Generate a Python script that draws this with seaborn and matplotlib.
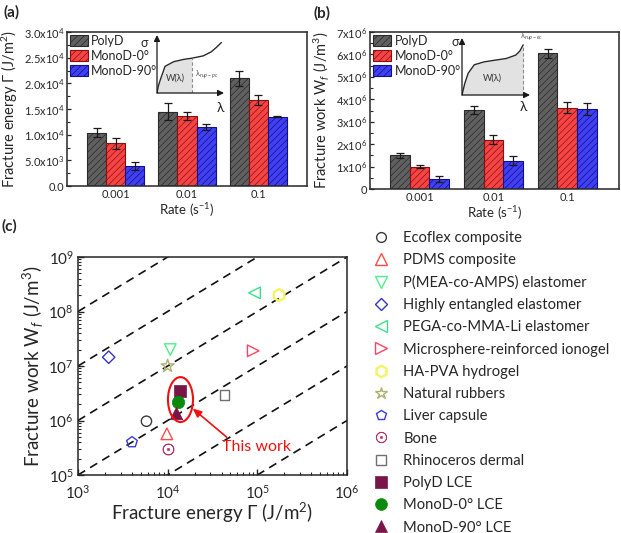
import numpy as np
import pandas as pd
import matplotlib
matplotlib.use('Agg')
import matplotlib.pyplot as plt
import seaborn as sns
from matplotlib.patches import Ellipse, Patch
from matplotlib.lines import Line2D
from matplotlib.ticker import FuncFormatter, MultipleLocator, LogLocator, NullFormatter

# ---------------- data ----------------
rates = ['0.001', '0.01', '0.1']
samples = ['PolyD', 'MonoD-0°', 'MonoD-90°']

# (a) fracture energy, J/m^2
gamma_polyd = [10400, 14500, 21000]
gamma_mono0 = [8300, 13600, 16700]
gamma_mono90 = [3950, 11500, 13500]
gamma_err = [[900, 1700, 1500], [1100, 750, 1000], [800, 550, 100]]

# (b) fracture work, J/m^3
work_polyd = [1.50e6, 3.52e6, 6.05e6]
work_mono0 = [1.00e6, 2.20e6, 3.62e6]
work_mono90 = [0.45e6, 1.26e6, 3.57e6]
work_err = [[0.10e6, 0.18e6, 0.20e6], [0.06e6, 0.20e6, 0.24e6], [0.13e6, 0.20e6, 0.26e6]]

# inset schematic curves (normalised stretch / stress)
lam_a = [0, 0.02, 0.05, 0.12, 0.25, 0.40, 0.52, 0.69, 0.81, 0.89, 0.96]
sig_a = [0, 0.12, 0.23, 0.46, 0.54, 0.58, 0.60, 0.64, 0.71, 0.79, 0.87]
lam_b = [0, 0.02, 0.04, 0.09, 0.18, 0.32, 0.48, 0.65, 0.79, 0.85, 0.90]
sig_b = [0, 0.10, 0.20, 0.38, 0.53, 0.58, 0.61, 0.64, 0.70, 0.77, 0.88]

# (c) Ashby-type comparison
materials = ['Ecoflex composite', 'PDMS composite', 'P(MEA-co-AMPS) elastomer',
             'Highly entangled elastomer', 'PEGA-co-MMA-Li elastomer',
             'Microsphere-reinforced ionogel', 'HA-PVA hydrogel', 'Natural rubbers',
             'Liver capsule', 'Bone', 'Rhinoceros dermal', 'PolyD LCE',
             'MonoD-0° LCE', 'MonoD-90° LCE']
frac_energy = [5.8e3, 9.8e3, 1.07e4, 2.2e3, 9.3e4, 9.0e4, 1.75e5, 1.0e4, 4.0e3, 1.0e4,
               4.3e4, 1.38e4, 1.3e4, 1.23e4]
frac_work = [9.7e5, 5.7e5, 2.0e7, 1.45e7, 2.2e8, 1.9e7, 2.0e8, 1.0e7, 4.0e5, 3.0e5,
             2.9e6, 3.5e6, 2.2e6, 1.4e6]
line_ratios = [1, 1e1, 1e2, 1e3, 1e4, 1e5]   # W_f / Gamma guide lines

# ---------------- style ----------------
sns.set_theme(style='ticks')
plt.rcParams['font.family'] = ['Lato', 'DejaVu Sans']
plt.rcParams['mathtext.fontset'] = 'custom'
plt.rcParams['mathtext.rm'] = 'Lato'
plt.rcParams['mathtext.it'] = 'Lato:italic'
plt.rcParams['mathtext.bf'] = 'Lato:bold'
plt.rcParams['hatch.linewidth'] = 0.5
plt.rcParams['xtick.direction'] = 'in'
plt.rcParams['ytick.direction'] = 'in'
plt.rcParams['axes.linewidth'] = 1.1

bar_colors = ['#606060', '#f54444', '#4040f2']
edge_colors = ['#2a2a2a', '#8a1010', '#10108a']

mk = ['o', '^', 'v', 'D', '<', '>', 'h', '*', 'p', '$\\odot$', 's', 's', 'o', '^']
mcol = ['#3a3a3a', '#ff4a4a', '#4df08a', '#3434c8', '#3fe08a', '#ff4466', '#f4f46a',
        '#b0b070', '#3a3ad8', '#b03a6a', '#707070', '#7a1548', '#0a8a0a', '#7a1548']
msize = [55, 70, 70, 40, 70, 70, 75, 95, 65, 65, 50, 80, 80, 80]
filled = [False] * 11 + [True] * 3

fig = plt.figure(figsize=(6.21, 5.33), dpi=100)
W, H = 621, 533


def box(l, t, r, b):
    return [l / W, 1 - b / H, (r - l) / W, (b - t) / H]


def sci_a(v, pos):
    if v < 1:
        return '0.0' if abs(v) < 1 else ''
    e = int(np.floor(np.log10(v)))
    return '$\\mathregular{%.1fx10^{%d}}$' % (v / 10 ** e, e)


def sci_b(v, pos):
    if v < 1:
        return '0' if abs(v) < 1 else ''
    return '$\\mathregular{%dx10^{6}}$' % round(v / 1e6)


def bar_panel(ax, vals, errs, fmt, major, ylim, leg_fs):
    df = pd.DataFrame({'rate': rates * 3,
                       'sample': np.repeat(samples, 3),
                       'val': vals})
    sns.barplot(data=df, x='rate', y='val', hue='sample', hue_order=samples,
                palette=bar_colors, saturation=1, errorbar=None, width=0.8,
                linewidth=0.8, legend=False, ax=ax)
    conts = list(ax.containers)
    for cont, ec, err in zip(conts, edge_colors, errs):
        for bar, e in zip(cont, err):
            bar.set_edgecolor(ec)
            bar.set_hatch('/////')
            ax.errorbar(bar.get_x() + bar.get_width() / 2, bar.get_height(), yerr=e,
                        fmt='none', ecolor='#1a1a1a', elinewidth=0.9, capsize=3,
                        capthick=0.9, zorder=4)
    ax.set_ylim(*ylim)
    ax.set_xlim(-0.68, 2.68)
    ax.yaxis.set_major_locator(MultipleLocator(major))
    ax.yaxis.set_minor_locator(MultipleLocator(major / 2))
    ax.yaxis.set_major_formatter(FuncFormatter(fmt))
    ax.tick_params(axis='both', labelsize=8, length=3, width=0.9, pad=2)
    ax.tick_params(axis='y', which='minor', length=1.8, width=0.8)
    ax.tick_params(axis='x', length=0)
    ax.set_xlabel('Rate (s$^{-1}$)', fontsize=9.5, labelpad=1)
    handles = [Patch(facecolor=c, edgecolor=e, hatch='/////', lw=0.8)
               for c, e in zip(bar_colors, edge_colors)]
    ax.legend(handles, samples, loc='upper left', frameon=False, fontsize=leg_fs,
              handlelength=1.45, handleheight=1.0, handletextpad=0.25,
              labelspacing=0.22, borderaxespad=0.15, borderpad=0.1)


def inset(rect, lam, sig, shade_to, rup_label, rup_xy, w_xy, sig_xy, lam_xy):
    ia = fig.add_axes(rect)
    ia.set_xlim(0, 1)
    ia.set_ylim(0, 1)
    ia.axis('off')
    lam = np.array(lam)
    sig = np.array(sig)
    keep = lam <= shade_to + 1e-9
    ia.fill_between(lam[keep], 0, sig[keep], color='#e2e2e2', lw=0)
    ia.plot(lam, sig, color='#2a2a2a', lw=1.0)
    ia.plot([shade_to, shade_to], [0, sig[keep][-1]], color='#8a8a8a', lw=0.8,
            ls=(0, (3, 2)))
    ia.annotate('', xy=(0, 1.0), xytext=(0, 0),
                arrowprops=dict(arrowstyle='-|>,head_width=0.15,head_length=0.3',
                                color='#1a1a1a', lw=0.9, shrinkA=0, shrinkB=0))
    ia.annotate('', xy=(1.0, 0), xytext=(0, 0),
                arrowprops=dict(arrowstyle='-|>,head_width=0.15,head_length=0.3',
                                color='#1a1a1a', lw=0.9, shrinkA=0, shrinkB=0))
    ia.text(*w_xy, 'W(λ)', fontsize=6.5, ha='center', va='center', color='#333333')
    ia.text(*rup_xy, rup_label, fontsize=5.5, ha='left', va='center', color='#555555')
    ia.text(*sig_xy, 'σ', fontsize=9, ha='center', va='center')
    ia.text(*lam_xy, 'λ', fontsize=10, ha='center', va='center')


# ---------------- (a) ----------------
ax_a = fig.add_axes(box(67, 32, 307, 186))
bar_panel(ax_a, gamma_polyd + gamma_mono0 + gamma_mono90, gamma_err, sci_a,
          5000, (0, 30000), 9)
ax_a.set_ylabel('Fracture energy Γ (J/m$^2$)', fontsize=10.5, labelpad=3)
inset(box(157, 35, 224, 93), lam_a, sig_a, 0.52, 'λ$_{rup-pc}$', (0.57, 0.32),
      (0.27, 0.25), (-0.19, 0.86), (0.95, -0.25))

# ---------------- (b) ----------------
ax_b = fig.add_axes(box(370, 32, 619, 189))
bar_panel(ax_b, work_polyd + work_mono0 + work_mono90, work_err, sci_b,
          1e6, (0, 7e6), 9)
ax_b.set_xlim(-0.67, 2.7)
ax_b.set_ylabel('Fracture work W$_f$ (J/m$^3$)', fontsize=10.5, labelpad=3)
inset(box(462, 38, 530, 95), lam_b, sig_b, 0.90, 'λ$_{rup-ec}$', (0.86, 1.02),
      (0.45, 0.3), (-0.1, 0.93), (0.9, -0.21))

# ---------------- (c) ----------------
ax_c = fig.add_axes(box(78, 257, 347, 475))
ax_c.set_xscale('log')
ax_c.set_yscale('log')
g_line = np.array([1e3, 1e6])
for r in line_ratios:
    ax_c.plot(g_line, g_line * r, color='#111111', lw=1.2, ls=(0, (5, 3.5)), zorder=1)

for name, g, w, m, c, s, f in zip(materials, frac_energy, frac_work, mk, mcol, msize, filled):
    if f or m.startswith('$'):
        sns.scatterplot(x=[g], y=[w], marker=m, s=s, color=c, edgecolor=c,
                        linewidth=0.5, ax=ax_c, zorder=3)
    else:
        lw = 1.8 if m == 'h' else 1.0
        sns.scatterplot(x=[g], y=[w], marker=m, s=s, facecolor='none', edgecolor=c,
                        linewidth=lw, ax=ax_c, zorder=3)

ax_c.set_xlim(1e3, 1e6)
ax_c.set_ylim(1e5, 1e9)
ax_c.xaxis.set_major_locator(LogLocator(base=10, numticks=10))
ax_c.yaxis.set_major_locator(LogLocator(base=10, numticks=10))
ax_c.xaxis.set_minor_locator(LogLocator(base=10, subs=np.arange(2, 10), numticks=20))
ax_c.yaxis.set_minor_locator(LogLocator(base=10, subs=np.arange(2, 10), numticks=20))
ax_c.xaxis.set_minor_formatter(NullFormatter())
ax_c.yaxis.set_minor_formatter(NullFormatter())
ax_c.tick_params(axis='both', labelsize=11, length=4, width=1.0, pad=3)
ax_c.tick_params(axis='x', pad=6)
ax_c.tick_params(which='minor', length=2.2, width=0.8)
ax_c.set_xlabel('Fracture energy Γ (J/m$^2$)', fontsize=13.5, labelpad=0)
ax_c.set_ylabel('Fracture work W$_f$ (J/m$^3$)', fontsize=13.5, labelpad=2)

ax_c.add_patch(Ellipse((0.381, 0.346), 0.093, 0.206, transform=ax_c.transAxes,
                       fill=False, edgecolor='#ee1111', lw=1.5, zorder=4))
ax_c.annotate('This work', xy=(1.9e4, 1.66e6), xytext=(4.07e4, 3.2e5),
              fontsize=11.5, color='#ee1111', ha='left', va='center',
              arrowprops=dict(arrowstyle='-|>,head_width=0.2,head_length=0.45',
                              color='#ee1111', lw=1.2, shrinkA=0, shrinkB=0,
                              relpos=(0.12, 1.0)))

handles = []
for m, c, s, f in zip(mk, mcol, msize, filled):
    solid = f or m.startswith('$')
    handles.append(Line2D([], [], ls='none', marker=m, markersize=np.sqrt(s) * 0.95,
                          markerfacecolor=c if solid else 'none', markeredgecolor=c,
                          markeredgewidth=0.5 if solid else (1.8 if m == 'h' else 1.0)))
fig.legend(handles, materials, loc='upper left',
           bbox_to_anchor=(374 / W, 1 - 231 / H), bbox_transform=fig.transFigure,
           frameon=False, fontsize=10.6, labelspacing=0.56, handlelength=1.0,
           handletextpad=1.0, borderpad=0, borderaxespad=0)

# panel letters
fig.text(4 / W, 1 - 12 / H, '(a)', fontsize=11, fontweight='bold', va='center')
fig.text(314 / W, 1 - 13 / H, '(b)', fontsize=11, fontweight='bold', va='center')
fig.text(2 / W, 1 - 226 / H, '(c)', fontsize=11, fontweight='bold', va='center')

fig.savefig('out.png', dpi=100)
plt.close(fig)
